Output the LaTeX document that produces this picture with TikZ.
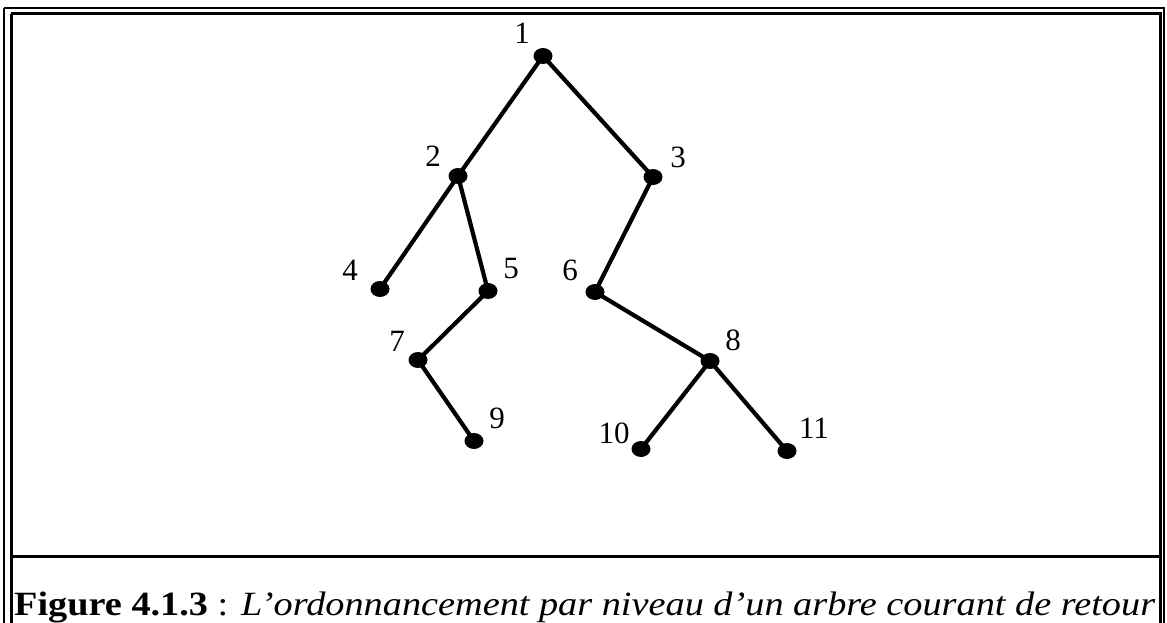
\documentclass[tikz,border=0pt]{standalone}
\usepackage{fontspec}
\setmainfont{Liberation Serif}
\usetikzlibrary{shapes.geometric}
\begin{document}
\begin{tikzpicture}[x=1pt,y=-1pt,
  dot/.style={fill=black,ellipse,inner sep=0pt,minimum width=19pt,minimum height=16pt},
  lbl/.style={font=\fontsize{31}{33}\selectfont,inner sep=0pt},
  edge/.style={line width=4.2pt}]
\useasboundingbox (0,0) rectangle (1167,623);
\clip (0,0) rectangle (1167,623);
% frame
\draw[line width=2pt] (4,8) -- (1164,8) -- (1164,640);
\draw[line width=2pt] (4,8) -- (4,640);
\draw[line width=3pt] (11,14) -- (1160,14) -- (1160,640);
\draw[line width=3pt] (11,14) -- (11,640);
\draw[line width=3pt] (11,556) -- (1160,556);
% nodes
\node[dot] (n1) at (543,56) {};
\node[dot] (n2) at (458,176) {};
\node[dot] (n3) at (653,177) {};
\node[dot] (n4) at (380,289) {};
\node[dot] (n5) at (488,291) {};
\node[dot] (n6) at (595,292) {};
\node[dot] (n7) at (418,360) {};
\node[dot] (n8) at (710,361) {};
\node[dot] (n9) at (474,441) {};
\node[dot] (n10) at (641,449) {};
\node[dot] (n11) at (787,451) {};
% labels
\node[lbl] (l1) at (522,33) {1};
\node[lbl] (l2) at (433,156) {2};
\node[lbl] (l3) at (678,157) {3};
\node[lbl] (l4) at (350,270) {4};
\node[lbl] (l5) at (511,269) {5};
\node[lbl] (l6) at (570,270) {6};
\node[lbl] (l7) at (397,341) {7};
\node[lbl] (l8) at (733,340) {8};
\node[lbl] (l9) at (497,418) {9};
\node[lbl] (l10) at (614,433) {10};
\node[lbl] (l11) at (814,428) {11};
% edges
\draw[edge] (n1.center) -- (n2.center);
\draw[edge] (n1.center) -- (n3.center);
\draw[edge] (n2.center) -- (n4.center);
\draw[edge] (n2.center) -- (n5.center);
\draw[edge] (n3.center) -- (n6.center);
\draw[edge] (n5.center) -- (n7.center);
\draw[edge] (n6.center) -- (n8.center);
\draw[edge] (n7.center) -- (n9.center);
\draw[edge] (n8.center) -- (n10.center);
\draw[edge] (n8.center) -- (n11.center);
% caption
\node[anchor=base west,inner sep=0pt,font=\fontsize{34}{36}\selectfont] (cap) at (14,615)
  {\scalebox{1.126}[1]{\textbf{Figure 4.1.3} : \textit{L'ordonnancement par niveau d'un arbre courant de retour}}};
\end{tikzpicture}
\end{document}
